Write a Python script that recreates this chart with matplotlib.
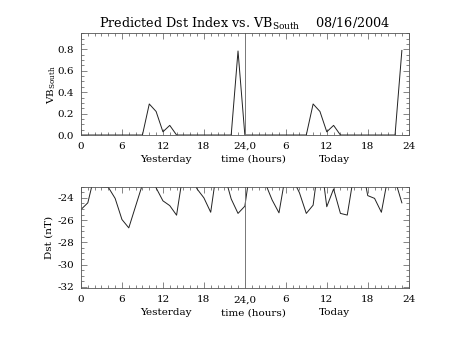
import matplotlib
matplotlib.use("Agg")
import matplotlib.pyplot as plt
from matplotlib.ticker import MultipleLocator, FixedLocator

# hourly values, yesterday (0-23) then today (24-47)
hours = list(range(48))
vb_south = [0, 0, 0, 0, 0, 0, 0, 0, 0, 0, 0.29, 0.22, 0.03, 0.09, 0, 0,
            0, 0, 0, 0, 0, 0, 0, 0.785,
            0, 0, 0, 0, 0, 0, 0, 0, 0, 0, 0.29, 0.22, 0.03, 0.09, 0, 0,
            0, 0, 0, 0, 0, 0, 0, 0.79]
dst = [-25.05, -24.45, -21.9, -23.02, -23.05, -24.05, -25.95, -26.7,
       -24.75, -22.8, -22.0, -23.1, -24.27, -24.7, -25.56, -21.6,
       -21.9, -23.2, -24.0, -25.3, -21.0, -21.9, -24.1, -25.4,
       -24.75, -20.5, -21.5, -22.7, -24.2, -25.35, -21.8, -22.3,
       -23.55, -25.4, -24.66, -20.0, -24.8, -23.2, -25.4, -25.55,
       -21.8, -20.6, -23.8, -24.05, -25.3, -22.0, -22.4, -24.45]

x_ticks = [0, 6, 12, 18, 24, 30, 36, 42, 48]
x_labels = ["0", "6", "12", "18", "24,0", "6", "12", "18", "24"]
vb_ticks = [0.0, 0.2, 0.4, 0.6, 0.8]
dst_ticks = [-24, -26, -28, -30, -32]

plt.rcParams["font.family"] = "DejaVu Serif"
plt.rcParams["mathtext.fontset"] = "dejavuserif"
plt.rcParams["font.size"] = 7.5
plt.rcParams["axes.unicode_minus"] = False

fig = plt.figure(figsize=(4.53, 3.40), dpi=100)
ax1 = fig.add_axes([0.1788, 0.6029, 0.7234, 0.2991])
ax2 = fig.add_axes([0.1788, 0.1521, 0.7234, 0.2988])

def style(ax):
	ax.set_xlim(0, 48)
	ax.xaxis.set_major_locator(FixedLocator(x_ticks))
	ax.set_xticklabels(x_labels)
	ax.xaxis.set_minor_locator(MultipleLocator(1))
	ax.tick_params(which="both", direction="in", top=True, right=True,
	               width=0.5, color="#555555", pad=5)
	ax.tick_params(which="major", length=4)
	ax.tick_params(which="minor", length=2)
	for sp in ax.spines.values():
		sp.set_linewidth(0.6)
		sp.set_color("#555555")
	ax.axvline(24, color="#777777", lw=0.7)
	ax.text(0.259, -0.24, "Yesterday", transform=ax.transAxes, ha="center", va="center")
	ax.text(0.525, -0.24, "time (hours)", transform=ax.transAxes, ha="center", va="center")
	ax.text(0.774, -0.24, "Today", transform=ax.transAxes, ha="center", va="center")

ax1.plot(hours, vb_south, color="#222222", lw=0.7)
style(ax1)
ax1.set_ylim(0, 0.95)
ax1.set_yticks(vb_ticks)
ax1.set_yticklabels(["%.1f" % v for v in vb_ticks])
ax1.yaxis.set_minor_locator(MultipleLocator(0.05))
ax1.set_ylabel(r"VB$_{\mathrm{South}}$", labelpad=0)
ax1.set_title(r"Predicted Dst Index vs. VB$_{\mathrm{South}}$    08/16/2004",
              fontsize=9.2, pad=4)

ax2.plot(hours, dst, color="#222222", lw=0.7)
style(ax2)
ax2.set_ylim(-32.13, -23)
ax2.set_yticks(dst_ticks)
ax2.set_yticklabels(["%d" % v for v in dst_ticks])
ax2.yaxis.set_minor_locator(MultipleLocator(0.5))
ax2.set_ylabel("Dst (nT)", labelpad=3)

fig.savefig("out.png", dpi=100)
